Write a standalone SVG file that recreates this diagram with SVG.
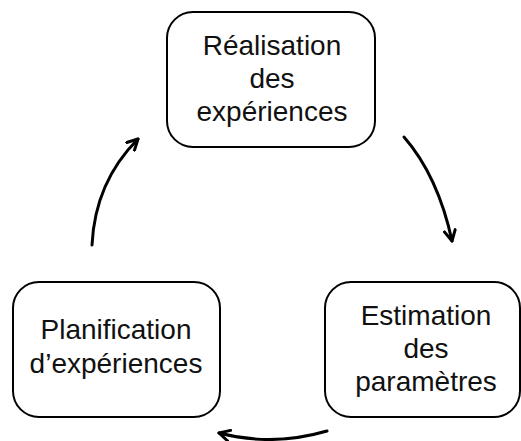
<svg xmlns="http://www.w3.org/2000/svg" width="521" height="441" viewBox="0 0 521 441">
<style>
.box{fill:#fff;stroke:#000;stroke-width:2}
.t{font-family:"Liberation Sans",Arial,sans-serif;font-size:28px;fill:#111;text-anchor:middle}
.c{fill:none;stroke:#000;stroke-width:3;stroke-linecap:round}
</style>
<defs>
<marker id="ah" viewBox="0 0 14 14" refX="12" refY="7" markerWidth="14" markerHeight="14" markerUnits="userSpaceOnUse" orient="auto">
<path d="M1.5,1.5 L12,7 L1.5,12.5" fill="none" stroke="#000" stroke-width="3" stroke-linecap="round" stroke-linejoin="round"/>
</marker>
</defs>
<g id="realisation">
<rect class="box" x="167" y="12" width="208" height="135" rx="26"/>
<text class="t" x="272" y="55">Réalisation</text>
<text class="t" x="272" y="88">des</text>
<text class="t" x="272" y="121">expériences</text>
</g>
<g id="estimation">
<rect class="box" x="325" y="282" width="195" height="135" rx="26"/>
<text class="t" x="426" y="325">Estimation</text>
<text class="t" x="426" y="358">des</text>
<text class="t" x="426" y="391">paramètres</text>
</g>
<g id="planification">
<rect class="box" x="13" y="282" width="207" height="135" rx="26"/>
<text class="t" x="116" y="339">Planification</text>
<text class="t" x="116" y="373">d’expériences</text>
</g>
<g id="connectors">
<path class="c" d="M404,137 Q438,176 452,241" marker-end="url(#ah)"/>
<path class="c" d="M327,431 Q272,447 219,433" marker-end="url(#ah)"/>
<path class="c" d="M92,245 Q95,182 138,139" marker-end="url(#ah)"/>
</g>
</svg>
